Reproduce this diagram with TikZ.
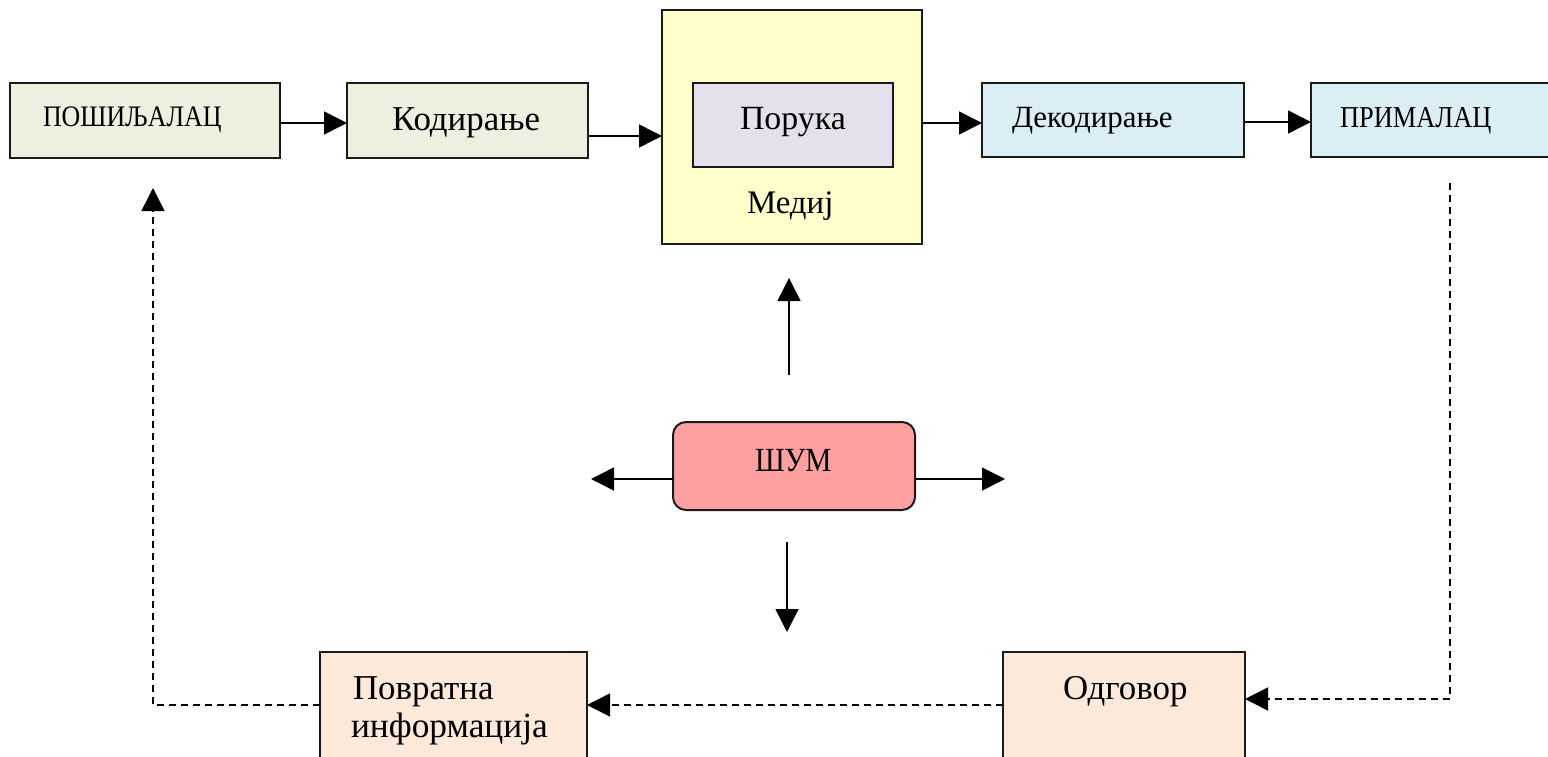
\documentclass[tikz,border=0pt]{standalone}
\usepackage{fontspec}
\setmainfont{Liberation Serif}
\usetikzlibrary{arrows.meta}
\definecolor{cgreen}{HTML}{EBF1DE}
\definecolor{cyellow}{HTML}{FFFFCC}
\definecolor{cpurple}{HTML}{E5E0EC}
\definecolor{cblue}{HTML}{DBEEF3}
\definecolor{cpeach}{HTML}{FDE9D9}
\definecolor{cred}{HTML}{FFA0A0}
\definecolor{cline}{HTML}{1A1A1A}
\tikzset{
  box/.style={draw=cline, line width=2bp, inner sep=0pt, outer sep=0pt, rectangle},
  lbl/.style={anchor=base west, inner sep=0pt, outer sep=0pt, text=black},
  arr/.style={line width=1.5bp, draw=black, -{Triangle[length=23bp,width=23bp]}},
  darr/.style={line width=1.5bp, draw=black, dash pattern=on 7bp off 5bp, -{Triangle[length=23bp,width=23bp]}},
}
\newcommand{\fs}[1]{\fontsize{#1}{#1}\selectfont}
\newcommand{\tall}[1]{\scalebox{1}[1.15]{#1}}
\begin{document}
\begin{tikzpicture}[x=1bp,y=-1bp]
\clip (0,0) rectangle (1548,757);
\fill[white] (0,0) rectangle (1548,757);

% top row boxes
\node[box, fill=cgreen, minimum width=270bp, minimum height=75bp] (send) at (145,120.5) {};
\node[box, fill=cgreen, minimum width=241bp, minimum height=75bp] (code) at (467.5,120.5) {};
\node[box, fill=cyellow, minimum width=260bp, minimum height=234bp] (medium) at (792,127) {};
\node[box, fill=cpurple, minimum width=200bp, minimum height=84bp] (msg) at (793,125) {};
\node[box, fill=cblue, minimum width=262bp, minimum height=74bp] (decode) at (1113,120) {};
\node[box, fill=cblue, minimum width=260bp, minimum height=74bp] (recv) at (1441,120) {};

% noise
\node[box, fill=cred, rounded corners=13bp, minimum width=242bp, minimum height=88bp] (noise) at (794,466) {};

% bottom boxes
\node[box, fill=cpeach, minimum width=242bp, minimum height=148bp] (resp) at (1124,726) {};
\node[box, fill=cpeach, minimum width=267bp, minimum height=148bp] (feedback) at (453.5,726) {};

% labels
\node[lbl] (tsend) at (43,126) {\tall{\fs{26}ПОШИЉАЛАЦ}};
\node[lbl] (tcode) at (392,130) {\fs{35}Кодирање};
\node[lbl] (tmsg) at (740,129) {\fs{34}Порука};
\node[lbl] (tmed) at (747,213) {\fs{33}Медиј};
\node[lbl] (tdec) at (1012,127) {\fs{31}Декодирање};
\node[lbl] (trecv) at (1340,127) {\tall{\fs{26.5}ПРИМАЛАЦ}};
\node[lbl] (tnoise) at (755,471) {\tall{\fs{29.5}ШУМ}};
\node[lbl] (tfb1) at (353,699) {\fs{35}Повратна};
\node[lbl] (tfb2) at (351,737) {\fs{35.5}информација};
\node[lbl] (tresp) at (1063,699) {\fs{35}Одговор};

% free-end coordinates
\coordinate (upS) at (789,375);
\coordinate (upE) at (789,278);
\coordinate (leftE) at (591,479);
\coordinate (rightE) at (1005,479);
\coordinate (downS) at (787,542);
\coordinate (downE) at (787,632);
\coordinate (rS) at (1450,183);
\coordinate (rC) at (1450,699);
\coordinate (lC) at (153,705);
\coordinate (lE) at (153,188);

% solid arrows
\draw[arr] (send.east |- 0,123) -- (code.west |- 0,123);
\draw[arr] (code.east |- 0,136) -- (medium.west |- 0,136);
\draw[arr] (medium.east |- 0,123) -- (decode.west |- 0,123);
\draw[arr] (decode.east |- 0,122) -- (recv.west |- 0,122);
\draw[arr] (upS) -- (upE);
\draw[arr] (noise.west |- leftE) -- (leftE);
\draw[arr] (noise.east |- rightE) -- (rightE);
\draw[arr] (downS) -- (downE);

% dashed feedback loop
\draw[darr] (rS) -- (rC) -- (resp.east |- rC);
\draw[darr] (resp.west |- lC) -- (feedback.east |- lC);
\draw[darr] (feedback.west |- lC) -- (lC) -- (lE);
\end{tikzpicture}
\end{document}
